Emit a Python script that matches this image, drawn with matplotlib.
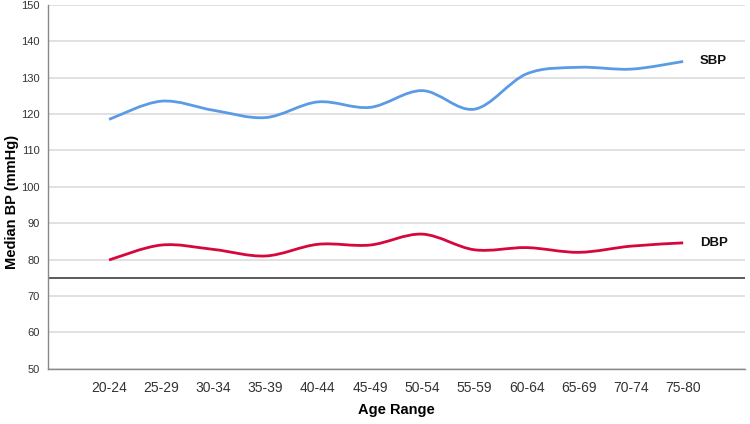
import matplotlib.pyplot as plt
import numpy as np
from matplotlib.path import Path
from matplotlib.patches import PathPatch

age_ranges = ['20-24', '25-29', '30-34', '35-39', '40-44', '45-49',
              '50-54', '55-59', '60-64', '65-69', '70-74', '75-80']
sbp = [118.5, 123.5, 121.0, 119.0, 123.3, 121.8, 126.4, 121.3, 131.0, 132.8, 132.3, 134.4]
dbp = [79.9, 84.0, 82.8, 81.0, 84.2, 84.0, 87.0, 82.7, 83.3, 82.0, 83.7, 84.6]
ref_line = 75


def smooth_path(xs, ys):
    # catmull-rom through the points, drawn as cubic bezier segments
    p = np.column_stack([xs, ys]).astype(float)
    ext = np.vstack([p[0], p, p[-1]])
    verts = [p[0]]
    codes = [Path.MOVETO]
    for i in range(len(p) - 1):
        p0, p1, p2, p3 = ext[i], ext[i + 1], ext[i + 2], ext[i + 3]
        verts += [p1 + (p2 - p0) / 6, p2 - (p3 - p1) / 6, p2]
        codes += [Path.CURVE4] * 3
    return Path(verts, codes)


plt.rcParams['font.family'] = ['Liberation Sans', 'DejaVu Sans']

fig = plt.figure(figsize=(7.5, 4.24), dpi=100)
ax = fig.add_axes([0.064, 0.13, 0.929, 0.859])

x = np.arange(len(age_ranges))
for vals, col, name in [(sbp, '#5b9be6', 'SBP'), (dbp, '#d5073c', 'DBP')]:
    ax.add_patch(PathPatch(smooth_path(x, vals), fill=False, edgecolor=col,
                           lw=2.0, capstyle='butt', zorder=3))
    ax.annotate(name, (x[-1], vals[-1]), xytext=(12, 0), textcoords='offset points',
                ha='left', va='center', fontsize=9.5, fontweight='bold', color='#111111')

ax.axhline(ref_line, color='#5a5a5a', lw=1.4, zorder=2)

ax.set_xlim(-1.17, 12.18)
ax.set_ylim(50, 150)
ax.set_yticks(range(50, 151, 10))
ax.set_xticks(x)
ax.set_xticklabels(age_ranges)
ax.yaxis.grid(True, color='#d9d9d9', lw=1.1, zorder=0)
ax.set_axisbelow(True)
for s in ['top', 'right']:
    ax.spines[s].set_visible(False)
for s in ['left', 'bottom']:
    ax.spines[s].set_color('#888888')
    ax.spines[s].set_linewidth(1.0)
ax.tick_params(length=0, colors='#333333')
ax.tick_params(axis='y', labelsize=8, pad=6)
ax.tick_params(axis='x', labelsize=10, pad=9)

fig.text(396 / 750, 1 - 410 / 424, 'Age Range', fontsize=10.5, fontweight='bold',
         ha='center', va='center')
fig.text(12 / 750, 1 - 202 / 424, 'Median BP (mmHg)', fontsize=10.5, fontweight='bold',
         rotation=90, ha='center', va='center')

fig.savefig('out.png', dpi=100)
